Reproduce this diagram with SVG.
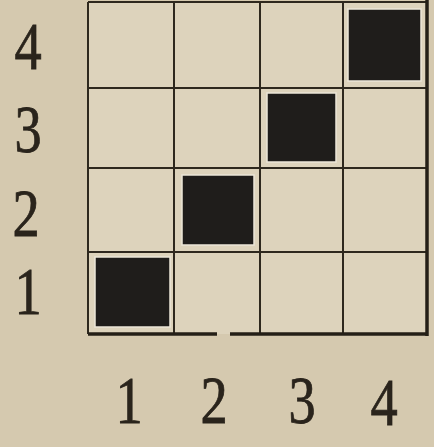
<svg xmlns="http://www.w3.org/2000/svg" width="434" height="447" viewBox="0 0 434 447">
<style>
.lbl{font-family:"Liberation Serif","DejaVu Serif",serif;font-size:68px;fill:#2a241c;stroke:#2a241c;stroke-width:0.8;text-anchor:middle}
.cell{fill:#1f1d1b;stroke:#ece6d8;stroke-width:1.5}
.grid{stroke:#2e281e;stroke-width:2;fill:none}
.border{stroke:#241f17;stroke-width:3.5;fill:none}
</style>
<rect width="434" height="447" fill="#d5c9af"/>
<rect x="88" y="2" width="339" height="332" fill="#ddd3bc"/>
<g id="connectors">
<line class="grid" x1="88" y1="2" x2="427" y2="2"/>
<line class="grid" x1="88" y1="88" x2="427" y2="88"/>
<line class="grid" x1="88" y1="168" x2="427" y2="168"/>
<line class="grid" x1="88" y1="252" x2="427" y2="252"/>
<line class="grid" x1="88" y1="2" x2="88" y2="334"/>
<line class="grid" x1="174" y1="2" x2="174" y2="334"/>
<line class="grid" x1="260" y1="2" x2="260" y2="334"/>
<line class="grid" x1="343" y1="2" x2="343" y2="334"/>
<line class="border" x1="427" y1="0" x2="427" y2="336"/>
<line class="border" x1="88" y1="334" x2="217" y2="334"/>
<line class="border" x1="230" y1="334" x2="428" y2="334"/>
</g>
<g id="cell-1-1"><rect class="cell" x="95" y="257" width="75" height="70"/></g>
<g id="cell-2-2"><rect class="cell" x="182" y="175" width="72" height="70"/></g>
<g id="cell-3-3"><rect class="cell" x="267" y="93" width="69" height="69"/></g>
<g id="cell-4-4"><rect class="cell" x="348" y="9" width="73" height="72"/></g>
<g id="row-labels">
<text class="lbl" transform="translate(28,69) scale(0.8,1)">4</text>
<text class="lbl" transform="translate(28,152) scale(0.8,1)">3</text>
<text class="lbl" transform="translate(26,236) scale(0.8,1)">2</text>
<text class="lbl" transform="translate(28,314) scale(0.8,1)">1</text>
</g>
<g id="col-labels">
<text class="lbl" transform="translate(129,423) scale(0.8,1)">1</text>
<text class="lbl" transform="translate(214,423) scale(0.8,1)">2</text>
<text class="lbl" transform="translate(302,423) scale(0.8,1)">3</text>
<text class="lbl" transform="translate(384,425) scale(0.8,1)">4</text>
</g>
</svg>
